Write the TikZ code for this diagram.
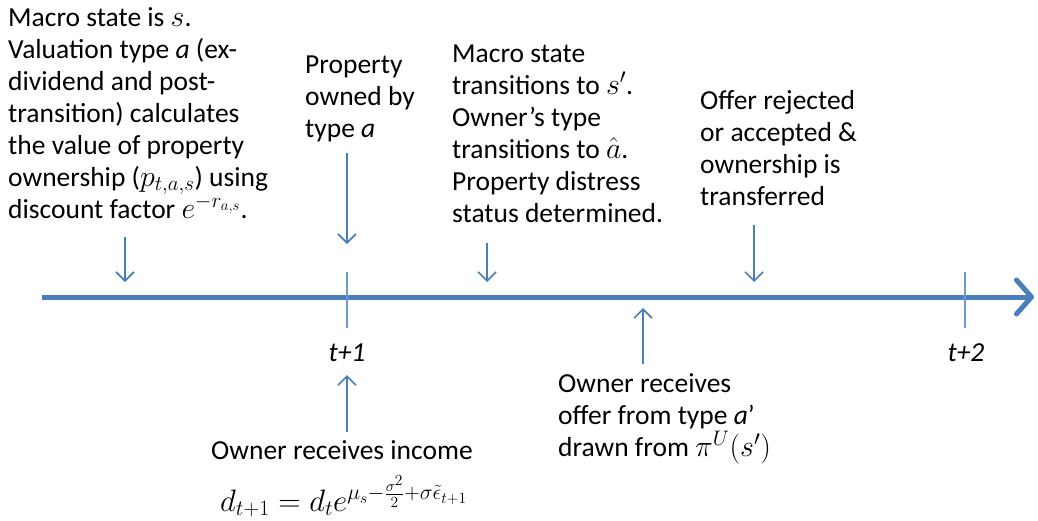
\RequirePackage{fix-cm}
\documentclass[tikz,border=0pt]{standalone}
\usepackage{fontspec}
\setmainfont{Carlito}
\newcommand{\mm}[1]{{\fontsize{30}{32}\selectfont$#1$}}
\usetikzlibrary{arrows.meta}
\definecolor{tl}{HTML}{4A7EBB}
\definecolor{tk}{HTML}{6F98CB}
\tikzset{
  txt/.style={anchor=base west, inner sep=0pt, align=left, font=\fontsize{27.5}{32}\selectfont},
  lbl/.style={anchor=base, inner sep=0pt, font=\fontsize{27.5}{32}\selectfont\itshape},
  evt/.style={draw=tl, line width=1.6pt, -{Straight Barb[length=9pt, width=18pt, line width=1.6pt]}},
  tick/.style={draw=tk, line width=1.6pt},
  axis/.style={draw=tl, line width=5pt, -{Straight Barb[length=15pt, width=34pt, line width=5pt, line cap=round, round]}}
}
\begin{document}
\begin{tikzpicture}[x=1pt,y=-1pt]
\useasboundingbox (0,0) rectangle (1038,520);
% timeline
\coordinate (ax0) at (42,297);
\coordinate (ax1) at (1034,297);
\draw[axis] (ax0) -- (ax1);
\coordinate (t1a) at (347,272); \coordinate (t1b) at (347,328);
\coordinate (t2a) at (965,272); \coordinate (t2b) at (965,328);
\draw[tick] (t1a) -- (t1b);
\draw[tick] (t2a) -- (t2b);
\node[lbl] (t1) at (347,361) {t+1};
\node[lbl] (t2) at (966,361) {t+2};
% texts (base = baseline of last line)
\node[txt] (A) at (8,218) {Macro state is \mm{s}.\\Valuation type \textit{a} (ex-\\dividend and post-\\transition) calculates\\the value of property\\ownership (\mm{p_{t,a,s}}) using\\discount factor \mm{e^{-r_{a,s}}}.};
\node[txt] (B) at (305,137) {Property\\owned by\\type \textit{a}};
\node[txt] (C) at (452,222) {Macro state\\transitions to \mm{s'}.\\Owner’s type\\transitions to \mm{\hat{a}}.\\Property distress\\status determined.};
\node[txt] (D) at (700,205) {Offer rejected\\or accepted \&\\ownership is\\transferred};
\node[txt] (E) at (558,456) {Owner receives\\offer from type \textit{a}’\\drawn from \mm{\pi^U(s')}};
\node[txt] (F) at (211,459) {Owner receives income};
\node[txt, font=\fontsize{31}{36}\selectfont] (G) at (220,511) {$d_{t+1} = d_t e^{\mu_s - \frac{\sigma^2}{2} + \sigma\tilde{\epsilon}_{t+1}}$};
% event arrows
\coordinate (a1s) at (125,237); \coordinate (a1e) at (125,282);
\coordinate (a2s) at (347,153); \coordinate (a2e) at (347,244);
\coordinate (a3s) at (487,243); \coordinate (a3e) at (487,282);
\coordinate (a4s) at (754,225); \coordinate (a4e) at (754,282);
\coordinate (a5s) at (643,364); \coordinate (a5e) at (643,308);
\coordinate (a6s) at (347,432); \coordinate (a6e) at (347,375);
\draw[evt] (a1s) -- (a1e);
\draw[evt] (a2s) -- (a2e);
\draw[evt] (a3s) -- (a3e);
\draw[evt] (a4s) -- (a4e);
\draw[evt] (a5s) -- (a5e);
\draw[evt] (a6s) -- (a6e);
\end{tikzpicture}
\end{document}
